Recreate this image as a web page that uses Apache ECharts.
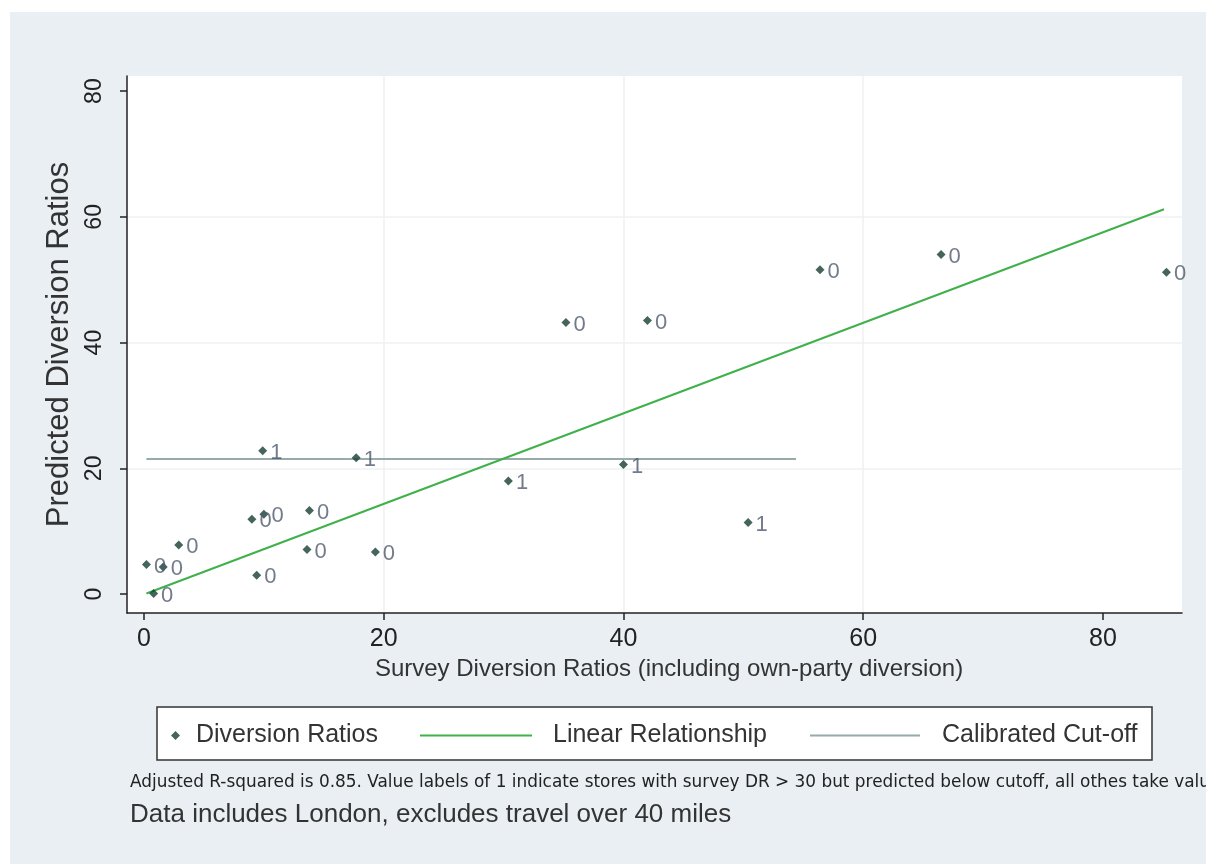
<!DOCTYPE html>
<html>
<head>
<meta charset="utf-8">
<style>
  html, body { margin: 0; padding: 0; background: #ffffff; overflow: hidden; }
  #chart { width: 1206px; height: 864px; }
</style>
<script src="https://cdn.jsdelivr.net/npm/echarts@6/dist/echarts.min.js"></script>
</head>
<body>
<div id="chart"></div>
<script>
// Store-level diversion ratios: survey value (x), predicted value (y), value label
const surveyDR    = [0.2, 1.6, 0.8, 2.9, 9.0, 10.0, 9.4, 13.8, 13.6, 19.3, 9.9, 17.7, 35.2, 42.0, 30.4, 40.0, 50.4, 56.4, 66.5, 85.3];
const predictedDR = [4.7, 4.3, 0.1, 7.8, 11.9, 12.7, 3.0, 13.3, 7.1, 6.7, 22.8, 21.7, 43.2, 43.5, 18.0, 20.6, 11.4, 51.6, 54.0, 51.2];
const valueLabels = ['0', '0', '0', '0', '0', '0', '0', '0', '0', '0', '1', '1', '0', '0', '1', '1', '1', '0', '0', '0'];

// Fitted linear relationship (end points)
const fitX = [0.2, 85.1];
const fitY = [0.1, 61.2];

// Calibrated cut-off (horizontal segment)
const cutoffX = [0.2, 54.4];
const cutoffY = [21.5, 21.5];

// Axis ticks
const xTicks = [0, 20, 40, 60, 80];
const yTicks = [0, 20, 40, 60, 80];

const seriesNames = ['Diversion Ratios', 'Linear Relationship', 'Calibrated Cut-off'];
const noteText = 'Adjusted R-squared is 0.85. Value labels of 1 indicate stores with survey DR > 30 but predicted below cutoff, all othes take value 0';
const captionText = 'Data includes London, excludes travel over 40 miles';

const FONT = '"Liberation Sans", Arial, sans-serif';
const FONT_NOTE = '"DejaVu Sans", "Liberation Sans", sans-serif';

const scatterData = surveyDR.map((x, i) => ({ value: [x, predictedDR[i]], label: { formatter: valueLabels[i] } }));
const fitData = fitX.map((x, i) => [x, fitY[i]]);
const cutoffData = cutoffX.map((x, i) => [x, cutoffY[i]]);

const chart = echarts.init(document.getElementById('chart'), null, { renderer: 'canvas' });

const legendBase = {
  top: 723,
  itemHeight: 2,
  selectedMode: false,
  padding: 0
};
const legendText = { fontFamily: FONT, fontSize: 25, color: '#333333' };

chart.setOption({
  animation: false,
  backgroundColor: 'transparent',
  graphic: [
    // outer tinted panel
    { type: 'rect', z: -10, shape: { x: 10, y: 12, width: 1196, height: 852 }, style: { fill: '#e9eff2' } },
    // legend frame
    { type: 'rect', z: -5, shape: { x: 157, y: 707, width: 995, height: 53 }, style: { fill: '#ffffff', stroke: '#333333', lineWidth: 1.5 } }
  ],
  title: [
    { text: noteText, left: 130, top: 774, padding: 0,
      textStyle: { fontFamily: FONT_NOTE, fontSize: 16.9, fontWeight: 'normal', color: '#222222' } },
    { text: captionText, left: 130, top: 802, padding: 0,
      textStyle: { fontFamily: FONT, fontSize: 26, fontWeight: 'normal', color: '#333333' } }
  ],
  legend: [
    Object.assign({}, legendBase, {
      data: [{ name: seriesNames[0], icon: 'diamond' }], left: 171, itemWidth: 9, itemHeight: 9,
      textStyle: Object.assign({ padding: [0, 0, 0, 11] }, legendText)
    }),
    Object.assign({}, legendBase, {
      data: [{ name: seriesNames[1], icon: 'rect' }], left: 420, itemWidth: 112,
      textStyle: Object.assign({ padding: [0, 0, 0, 16] }, legendText)
    }),
    Object.assign({}, legendBase, {
      data: [{ name: seriesNames[2], icon: 'rect' }], left: 810, itemWidth: 110,
      textStyle: Object.assign({ padding: [0, 0, 0, 17] }, legendText)
    })
  ],
  grid: {
    left: 127, right: 24, top: 76, bottom: 251,
    show: true, backgroundColor: '#ffffff', borderWidth: 0,
    containLabel: false
  },
  xAxis: {
    type: 'value',
    min: -1.42, max: 86.6,
    name: 'Survey Diversion Ratios (including own-party diversion)',
    nameLocation: 'middle',
    nameGap: 43,
    nameTextStyle: { fontFamily: FONT, fontSize: 24, color: '#333333', padding: [0, 0, 0, 29] },
    axisLine: { show: true, onZero: false, lineStyle: { color: '#222222', width: 1.5 } },
    axisTick: { show: true, length: 7, customValues: xTicks, lineStyle: { color: '#222222', width: 1.5 } },
    axisLabel: { customValues: xTicks, margin: 14, fontFamily: FONT, fontSize: 25, color: '#222222' },
    splitLine: { show: true, showMinLine: false, showMaxLine: false, lineStyle: { color: '#eef1f3', width: 1.5 } }
  },
  yAxis: {
    type: 'value',
    min: -3.0, max: 82.4,
    name: 'Predicted Diversion Ratios',
    nameLocation: 'middle',
    nameGap: 39,
    nameTextStyle: { fontFamily: FONT, fontSize: 31, color: '#333333' },
    axisLine: { show: true, onZero: false, lineStyle: { color: '#222222', width: 1.5 } },
    axisTick: { show: true, length: 7, customValues: yTicks, lineStyle: { color: '#222222', width: 1.5 } },
    axisLabel: { customValues: yTicks, rotate: 90, margin: 21, fontFamily: FONT, fontSize: 23, color: '#222222' },
    splitLine: { show: true, showMinLine: false, showMaxLine: false, lineStyle: { color: '#eef1f3', width: 1.5 } }
  },
  series: [
    {
      name: seriesNames[0],
      type: 'scatter',
      symbol: 'diamond',
      symbolSize: 9,
      z: 5,
      itemStyle: { color: '#173f33' },
      label: {
        show: true, position: 'right', distance: 3,
        fontFamily: FONT, fontSize: 22, color: '#4f5a6e',
        offset: [0, 2]
      },
      data: scatterData
    },
    {
      name: seriesNames[1],
      type: 'line',
      symbol: 'none',
      z: 3,
      lineStyle: { color: '#3fb14a', width: 2 },
      itemStyle: { color: '#3fb14a' },
      data: fitData
    },
    {
      name: seriesNames[2],
      type: 'line',
      symbol: 'none',
      z: 2,
      lineStyle: { color: '#98aaa9', width: 2 },
      itemStyle: { color: '#98aaa9' },
      data: cutoffData
    }
  ]
});
</script>
</body>
</html>
